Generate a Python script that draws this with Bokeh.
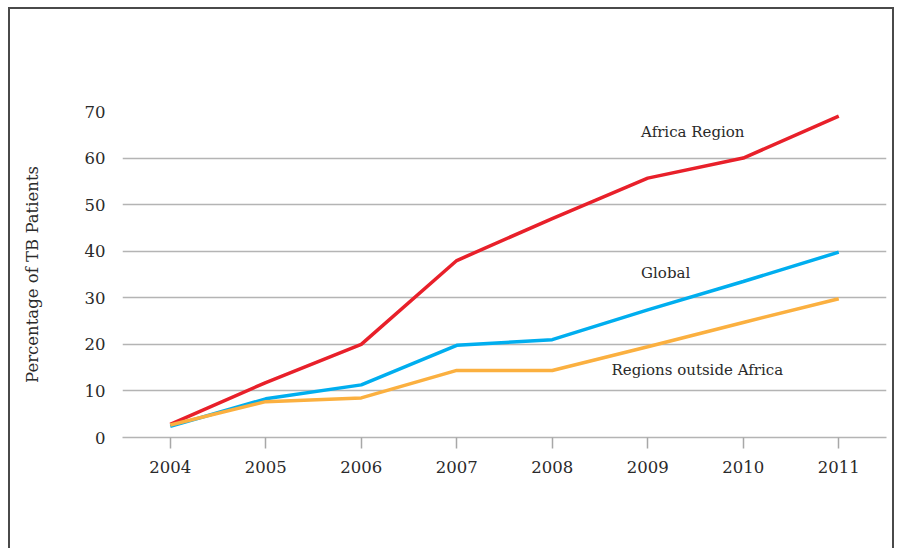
from bokeh.plotting import figure
from bokeh.models import Label, FixedTicker
from bokeh.embed import file_html
from bokeh.resources import INLINE

years = [2004, 2005, 2006, 2007, 2008, 2009, 2010, 2011]
africa = [2.8, 11.8, 20.0, 38.0, 47.0, 55.7, 60.0, 69.0]
global_ = [2.4, 8.3, 11.3, 19.8, 21.0, 27.4, 33.5, 39.8]
outside = [2.7, 7.7, 8.5, 14.4, 14.4, 19.5, 24.7, 29.8]
y_ticks = [0, 10, 20, 30, 40, 50, 60, 70]

label_texts = ["Africa Region", "Global", "Regions outside Africa"]
label_x = [2008.93, 2008.93, 2008.62]
label_y = [65.5, 35.4, 14.4]

FONT = "DejaVu Serif"

p = figure(width=886, height=541, output_backend="svg", toolbar_location=None,
           x_range=(2003.5, 2011.5), y_range=(0, 70),
           min_border_left=112, min_border_right=10, min_border_top=102, min_border_bottom=113)
p.styles = {"border-top": "2px solid #4a4a4a", "border-left": "2px solid #4a4a4a",
            "border-right": "2px solid #4a4a4a", "margin-left": "8px", "margin-top": "7px"}
p.outline_line_color = None
p.background_fill_color = "white"
p.border_fill_color = "white"

p.line(years, africa, line_color="#e8202a", line_width=3.5)
p.line(years, global_, line_color="#00aeef", line_width=3.5)
p.line(years, outside, line_color="#fbb040", line_width=3.5)

p.xgrid.grid_line_color = None
p.ygrid.grid_line_color = "#b4b4b4"
p.ygrid.grid_line_width = 1.5
p.ygrid.ticker = FixedTicker(ticks=y_ticks[1:])

p.xaxis.ticker = FixedTicker(ticks=years)
p.xaxis.axis_line_color = "#b4b4b4"
p.xaxis.axis_line_width = 1.5
p.xaxis.major_tick_line_color = "#a8a8a8"
p.xaxis.major_tick_line_width = 1.5
p.xaxis.major_tick_out = 11
p.xaxis.major_tick_in = 0
p.xaxis.minor_tick_line_color = None
p.xaxis.major_label_standoff = 12
p.xaxis.major_label_text_font = FONT
p.xaxis.major_label_text_font_size = "16.5px"
p.xaxis.major_label_text_color = "#2a2a2a"

p.yaxis.ticker = FixedTicker(ticks=y_ticks)
p.yaxis.axis_line_color = None
p.yaxis.major_tick_line_color = None
p.yaxis.minor_tick_line_color = None
p.yaxis.major_label_standoff = 11
p.yaxis.major_label_text_font = FONT
p.yaxis.major_label_text_font_size = "16.5px"
p.yaxis.major_label_text_color = "#2a2a2a"
p.yaxis.axis_label = "Percentage of TB Patients"
p.yaxis.axis_label_text_font = FONT
p.yaxis.axis_label_text_font_style = "normal"
p.yaxis.axis_label_text_font_size = "16.5px"
p.yaxis.axis_label_text_color = "#2a2a2a"
p.yaxis.axis_label_standoff = 40

for t, x, y in zip(label_texts, label_x, label_y):
    p.add_layout(Label(x=x, y=y, text=t, text_font=FONT, text_font_size="15px",
                       text_color="#2a2a2a", text_baseline="middle", text_align="left"))

open("out.html", "w").write(file_html(p, INLINE))
